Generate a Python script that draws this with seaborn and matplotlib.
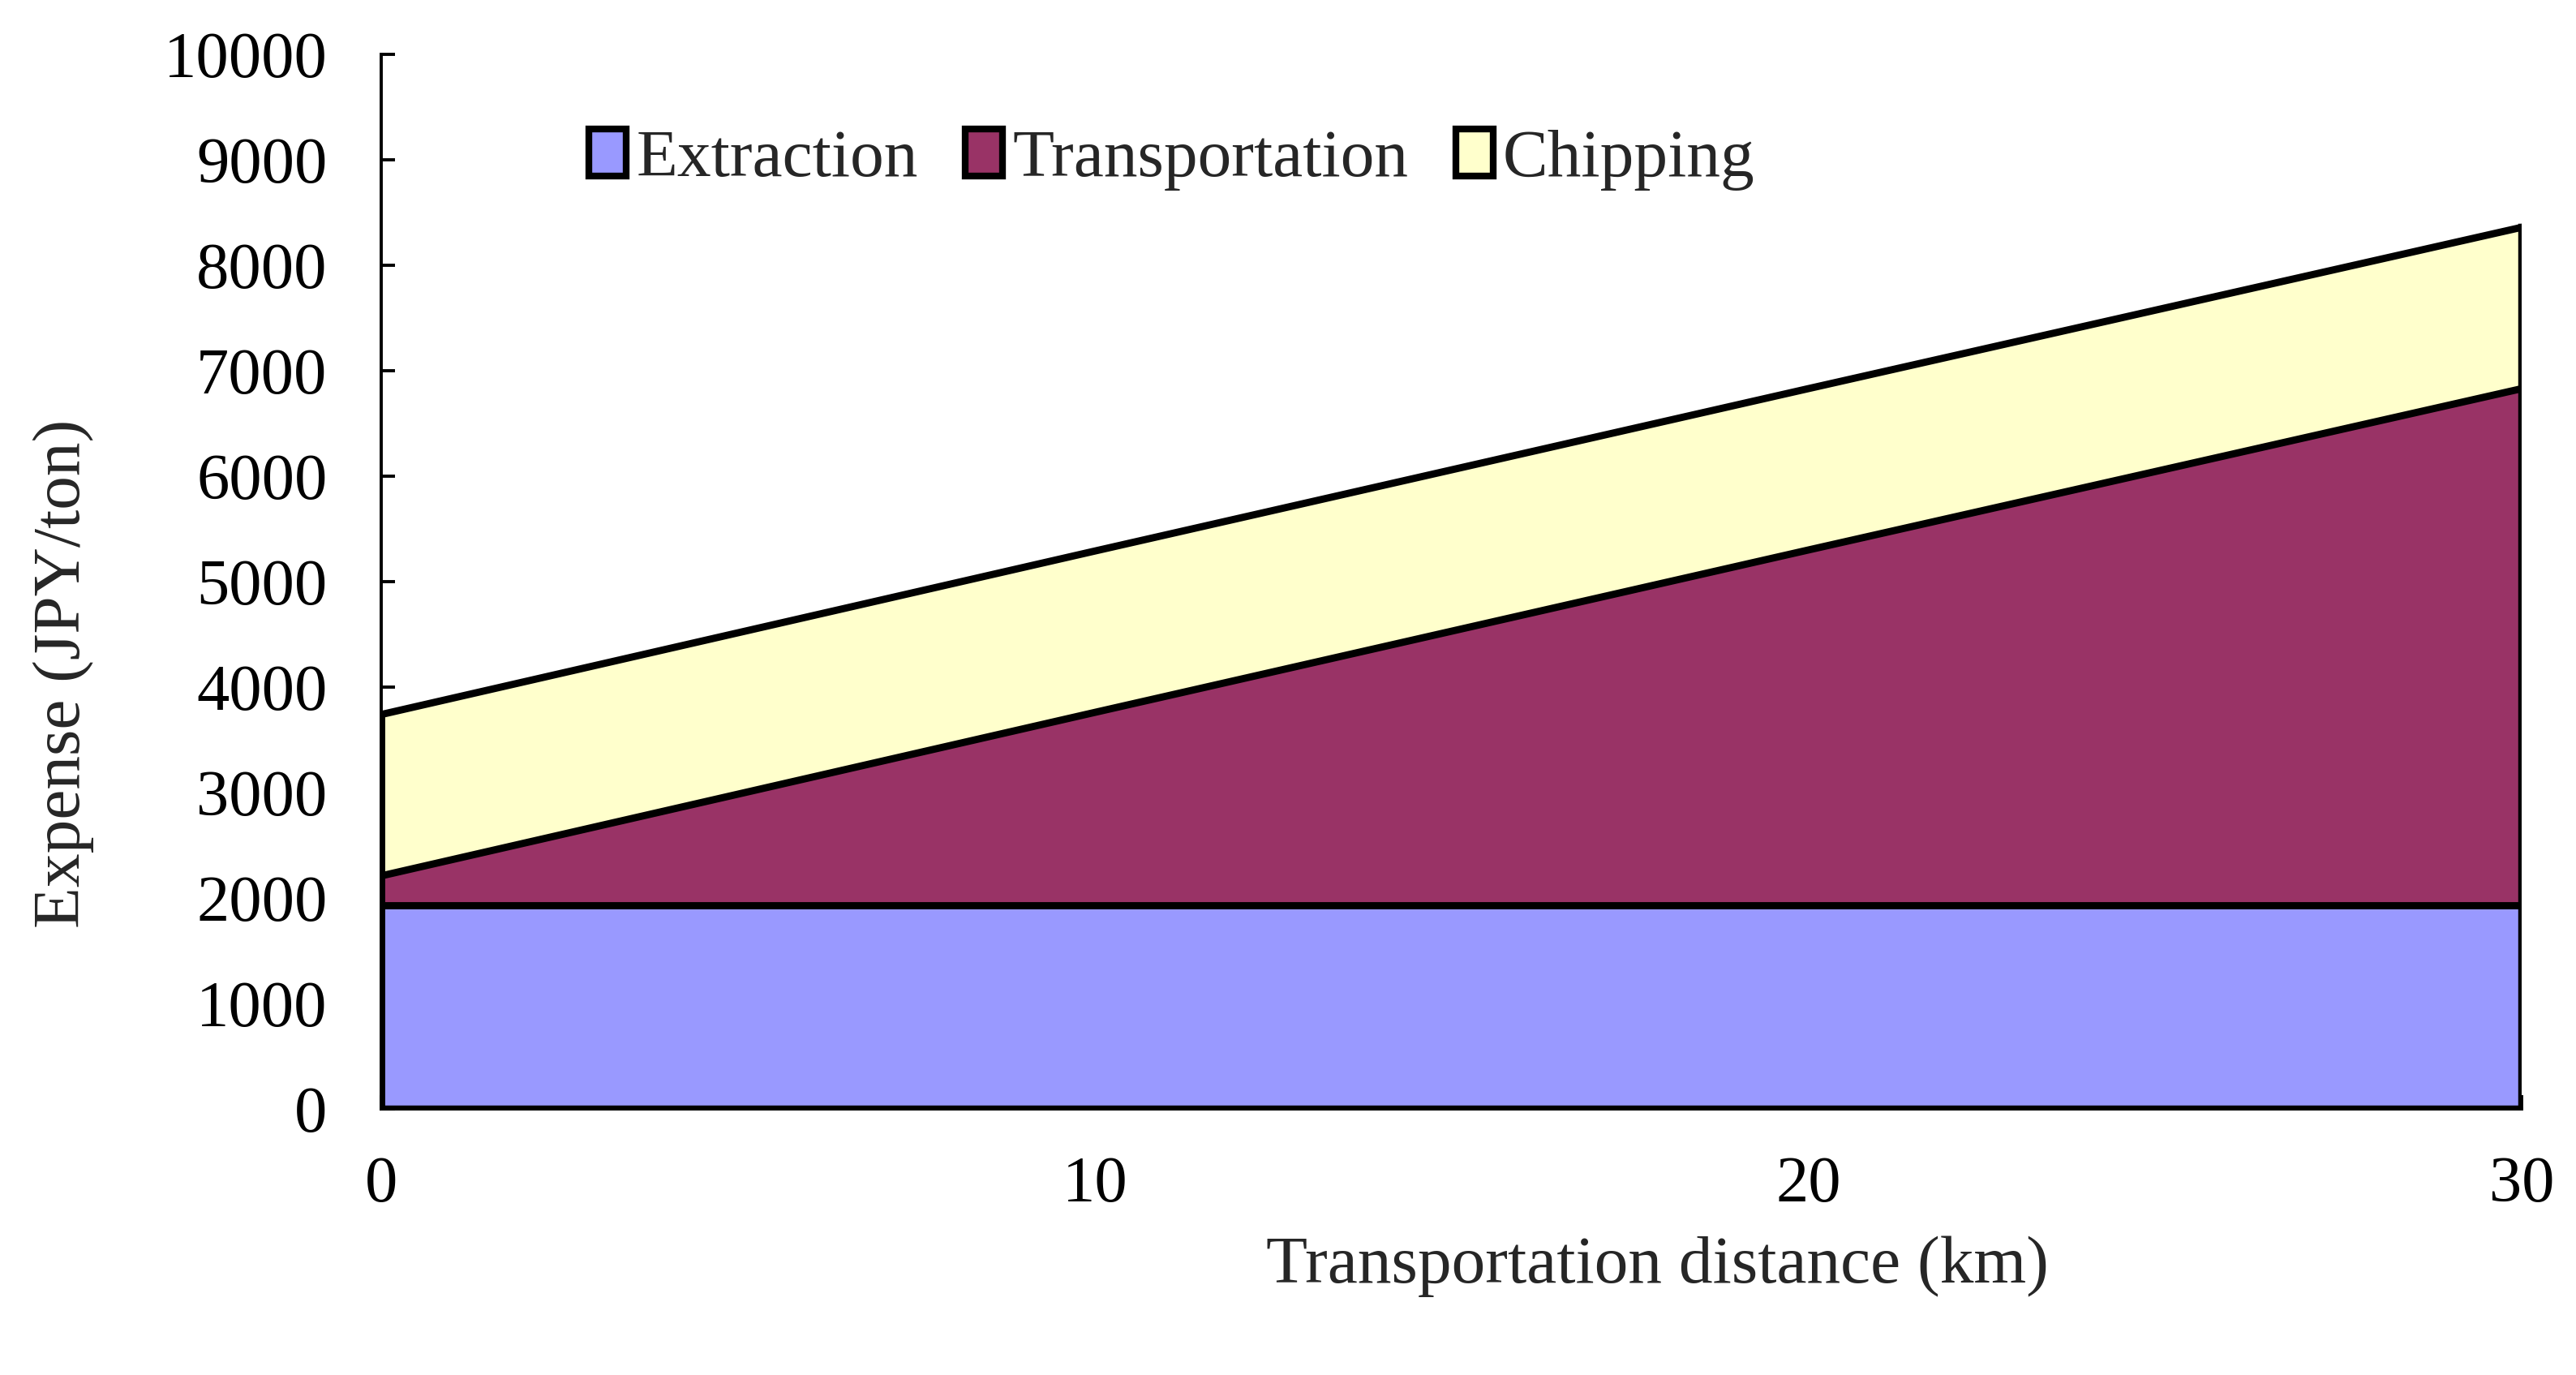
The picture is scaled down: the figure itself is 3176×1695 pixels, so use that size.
import numpy as np
import pandas as pd
import seaborn as sns
import matplotlib.pyplot as plt
from matplotlib.patches import Patch

# Valores (JPY/ton)
distance = [0, 5, 10, 15, 20, 25, 30]
extraction = [1930, 1930, 1930, 1930, 1930, 1930, 1930]
transportation = [280, 1055, 1830, 2600, 3370, 4135, 4900]
chipping = [1530, 1530, 1530, 1530, 1530, 1530, 1530]

series = ['Extraction', 'Transportation', 'Chipping']
colors = ['#9999FF', '#993366', '#FFFFCC']

df = pd.DataFrame({'distance': distance, 'Extraction': extraction,
                   'Transportation': transportation, 'Chipping': chipping})

sns.set_theme(style='ticks')
plt.rcParams['font.family'] = ['Liberation Serif', 'DejaVu Serif']

fig = plt.figure(figsize=(15.88, 8.475), dpi=200)
ax = fig.add_axes([0.148, 0.1935, 0.831, 0.767])

# areas apiladas
bottom = np.zeros(len(df))
for name, col in zip(series, colors):
    top = bottom + df[name].values
    ax.fill_between(df['distance'], bottom, top, facecolor=col, edgecolor='none', zorder=2)
    bottom = top
    df[name + '_cum'] = top

# bordes de cada capa
for name in series:
    sns.lineplot(data=df, x='distance', y=name + '_cum', color='black',
                 linewidth=3.2, ax=ax, zorder=3)
ax.plot([0, 30, 30], [0, 0, bottom[-1]], color='black', linewidth=3.4, zorder=3,
        solid_joinstyle='miter', solid_capstyle='projecting')
ax.plot([0, 0], [0, bottom[0]], color='black', linewidth=3.2, zorder=3)

ax.set_xlim(0, 30)
ax.set_ylim(0, 10000)
ax.set_xticks([0, 5, 10, 15, 20, 25, 30])
ax.set_xticklabels(['0', '', '10', '', '20', '', '30'])
ax.set_yticks(range(0, 10001, 1000))
ax.tick_params(axis='both', direction='in', length=6, width=1.4, labelsize=29,
               colors='black')
ax.tick_params(axis='x', pad=21)
ax.tick_params(axis='y', pad=24)

sns.despine(ax=ax)
for s in ['left', 'bottom']:
    ax.spines[s].set_linewidth(1.4)
    ax.spines[s].set_color('black')
ax.grid(False)

ax.set_xlabel('Transportation distance (km)', fontsize=30)
ax.set_ylabel('Expense (JPY/ton)', fontsize=30)
ax.xaxis.set_label_coords(0.596, -0.12)
ax.yaxis.set_label_coords(-0.134, 0.413)

handles = [Patch(facecolor=c, edgecolor='black', linewidth=3) for c in colors]
ax.legend(handles, series, loc='center left', bbox_to_anchor=(0.097, 0.9),
          ncol=3, frameon=False, fontsize=30, handlelength=0.55, handleheight=0.7,
          handletextpad=0.15, columnspacing=0.7, borderpad=0, borderaxespad=0)

fig.savefig('out.png', dpi=200, facecolor='white')
